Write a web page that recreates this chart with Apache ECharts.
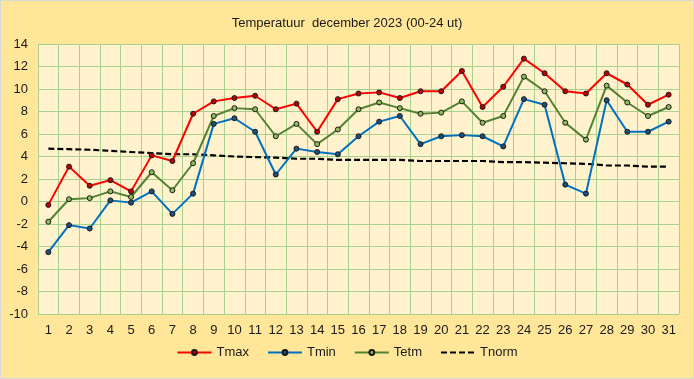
<!DOCTYPE html>
<html><head><meta charset="utf-8">
<script src="https://cdn.jsdelivr.net/npm/echarts@6/dist/echarts.min.js"></script>
<style>html,body{margin:0;padding:0;background:#FFE699;}#c{width:694px;height:379px;box-sizing:border-box;border:1px solid #D9D9D9;}</style>
</head><body><div id="c"></div>
<script>
const days = ['1','2','3','4','5','6','7','8','9','10','11','12','13','14','15','16','17','18','19','20','21','22','23','24','25','26','27','28','29','30','31'];
const tmax = [-0.3,3.1,1.4,1.9,0.9,4.1,3.6,7.8,8.9,9.2,9.4,8.2,8.7,6.2,9.1,9.6,9.7,9.2,9.8,9.8,11.6,8.4,10.2,12.7,11.4,9.8,9.6,11.4,10.4,8.6,9.5];
const tmin = [-4.5,-2.1,-2.4,0.1,-0.1,0.9,-1.1,0.7,6.9,7.4,6.2,2.4,4.7,4.4,4.2,5.8,7.1,7.6,5.1,5.8,5.9,5.8,4.9,9.1,8.6,1.5,0.7,9.0,6.2,6.2,7.1];
const tetm = [-1.8,0.2,0.3,0.9,0.4,2.6,1.0,3.4,7.6,8.3,8.2,5.8,6.9,5.1,6.4,8.2,8.8,8.3,7.8,7.9,8.9,7.0,7.6,11.1,9.8,7.0,5.5,10.3,8.8,7.6,8.4];
const tnorm = [4.7,4.65,4.6,4.5,4.4,4.3,4.2,4.2,4.1,4.0,3.95,3.9,3.8,3.8,3.7,3.7,3.7,3.7,3.6,3.6,3.6,3.6,3.5,3.5,3.45,3.4,3.35,3.2,3.2,3.1,3.1];
const FONT = "'Liberation Sans Narrow','Liberation Sans',sans-serif";
const chart = echarts.init(document.getElementById('c'), null, {renderer:'canvas'});
function ser(name, data, color, markFill){
  return {name, type:'line', data, symbol:'circle', symbolSize:5, showSymbol:true,
    lineStyle:{color, width:2}, itemStyle:{color:markFill, borderColor:'#1a1a1a', borderWidth:1},
    emphasis:{disabled:true}, z:3};
}
chart.setOption({
  animation:false,
  backgroundColor:'#FFE699',
  textStyle:{fontFamily:FONT},
  title:{text:'Temperatuur  december 2023 (00-24 ut)', left:'center', top:11,
    textStyle:{fontFamily:FONT, fontSize:13, fontWeight:'normal', color:'#1a1a1a'}},
  legend:{bottom:14, left:'center', itemWidth:34, itemHeight:6, itemGap:18,
    textStyle:{fontFamily:FONT, fontSize:13, color:'#1a1a1a'},
    data:['Tmax','Tmin','Tetm',{name:'Tnorm', itemStyle:{opacity:0}}]},
  grid:{left:37, right:14, top:43, bottom:64, show:true, backgroundColor:'#FFF2CC', borderWidth:0},
  xAxis:{type:'category', data:days, boundaryGap:true,
    axisLine:{show:false}, axisTick:{show:false},
    axisLabel:{fontFamily:FONT, fontSize:13, color:'#1a1a1a', margin:10, interval:0},
    splitLine:{show:true, interval:0, lineStyle:{color:'#A9D18E', width:1}}},
  yAxis:{type:'value', min:-10, max:14, interval:2,
    axisLine:{show:false}, axisTick:{show:false},
    axisLabel:{fontFamily:FONT, fontSize:13, color:'#1a1a1a', margin:10},
    splitLine:{show:true, lineStyle:{color:'#A9D18E', width:1}}},
  series:[
    ser('Tmax', tmax, '#FF0000', '#C00000'),
    ser('Tmin', tmin, '#0070C0', '#1F4E79'),
    ser('Tetm', tetm, '#548235', '#8FBC5A'),
    {name:'Tnorm', type:'line', data:tnorm, symbol:'none', lineStyle:{color:'#000', width:2.2, type:[6,3]},
      itemStyle:{color:'#000'}, emphasis:{disabled:true}, z:2}
  ]
});
</script></body></html>
